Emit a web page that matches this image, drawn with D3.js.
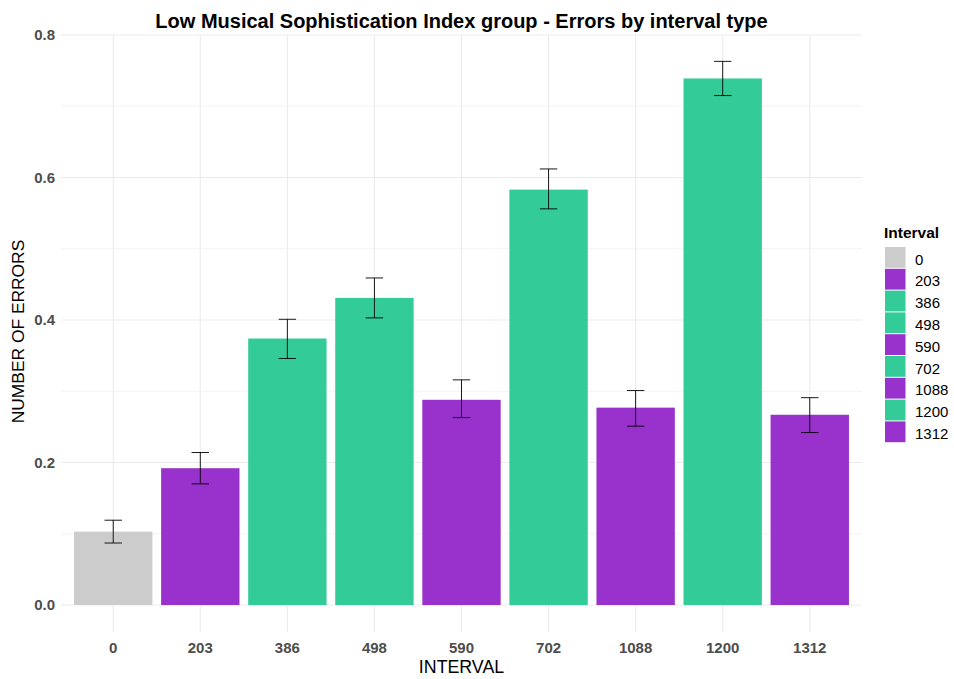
<!DOCTYPE html>
<html><head><meta charset="utf-8">
<script src="https://cdn.jsdelivr.net/npm/d3@7"></script>
<style>body{margin:0;background:#fff}svg{display:block;font-family:"Liberation Sans",Arial,sans-serif}</style>
</head><body><svg id="c" width="954" height="679"></svg>
<script>
const categories = ["0","203","386","498","590","702","1088","1200","1312"];
const errorMeans = [0.103,0.192,0.374,0.431,0.288,0.583,0.277,0.739,0.267];
const errorLow   = [0.087,0.170,0.346,0.403,0.263,0.556,0.251,0.715,0.242];
const errorHigh  = [0.119,0.214,0.401,0.459,0.316,0.612,0.301,0.763,0.291];
const groups     = ["unison","dissonant","consonant","consonant","dissonant","consonant","dissonant","consonant","dissonant"];
const yTicks = [0.0,0.2,0.4,0.6,0.8];
const yMinor = [0.1,0.3,0.5,0.7];
const colorMap = {unison:"#CCCCCC", dissonant:"#9932CC", consonant:"#33CC99"};

const svg = d3.select("#c");
const L=61, R=862, T=35, B=632;
// ggplot discrete axis: 0.6 expansion per side
const x = d3.scalePoint().domain(categories).range([L,R]).padding(0.6);
const step = x.step();
const y = d3.scaleLinear().domain([0,0.8]).range([605,35]);

const g = svg.append("g");
yMinor.forEach(v=>g.append("line").attr("x1",L).attr("x2",R).attr("y1",y(v)).attr("y2",y(v)).attr("stroke","#ebebeb").attr("stroke-width",0.6));
yTicks.forEach(v=>g.append("line").attr("x1",L).attr("x2",R).attr("y1",y(v)).attr("y2",y(v)).attr("stroke","#ebebeb").attr("stroke-width",1.1));
categories.forEach(c=>g.append("line").attr("x1",x(c)).attr("x2",x(c)).attr("y1",T).attr("y2",B).attr("stroke","#ebebeb").attr("stroke-width",1.1));

const bw = step*0.9;
const data = categories.map((c,i)=>({c, v:errorMeans[i], lo:errorLow[i], hi:errorHigh[i], grp:groups[i]}));
g.selectAll("rect.bar").data(data).enter().append("rect").attr("class","bar")
 .attr("x",d=>x(d.c)-bw/2).attr("width",bw)
 .attr("y",d=>y(d.v)).attr("height",d=>y(0)-y(d.v))
 .attr("fill",d=>colorMap[d.grp]);

const cw = step*0.2;
const eb = g.selectAll("g.err").data(data).enter().append("g").attr("stroke","#000").attr("stroke-width",0.9);
eb.append("line").attr("x1",d=>x(d.c)).attr("x2",d=>x(d.c)).attr("y1",d=>y(d.lo)).attr("y2",d=>y(d.hi));
eb.append("line").attr("x1",d=>x(d.c)-cw/2).attr("x2",d=>x(d.c)+cw/2).attr("y1",d=>y(d.lo)).attr("y2",d=>y(d.lo));
eb.append("line").attr("x1",d=>x(d.c)-cw/2).attr("x2",d=>x(d.c)+cw/2).attr("y1",d=>y(d.hi)).attr("y2",d=>y(d.hi));

yTicks.forEach(v=>svg.append("text").attr("x",55).attr("y",y(v)+5.3).attr("text-anchor","end")
  .attr("font-size",15).attr("font-weight","bold").attr("fill","#4d4d4d").text(v.toFixed(1)));
categories.forEach(c=>svg.append("text").attr("x",x(c)).attr("y",653).attr("text-anchor","middle")
  .attr("font-size",15).attr("font-weight","bold").attr("fill","#4d4d4d").text(c));

svg.append("text").attr("x",(L+R)/2).attr("y",673).attr("text-anchor","middle").attr("font-size",17.8).attr("fill","#000").text("INTERVAL");
svg.append("text").attr("transform",`translate(24,331.5) rotate(-90)`).attr("text-anchor","middle").attr("font-size",17.4).attr("fill","#000").text("NUMBER OF ERRORS");
svg.append("text").attr("x",(L+R)/2).attr("y",28).attr("text-anchor","middle").attr("font-size",20).attr("font-weight","bold").attr("fill","#000")
  .text("Low Musical Sophistication Index group - Errors by interval type");

const lg = svg.append("g");
lg.append("text").attr("x",884).attr("y",238).attr("font-size",15.5).attr("font-weight","bold").text("Interval");
data.forEach((d,i)=>{
  const yy = 247 + i*21.8;
  lg.append("rect").attr("x",885).attr("y",yy).attr("width",20.5).attr("height",20.8).attr("fill",colorMap[d.grp]);
  lg.append("text").attr("x",915).attr("y",yy+17.5).attr("font-size",15).attr("fill","#000").text(d.c);
});
</script></body></html>
